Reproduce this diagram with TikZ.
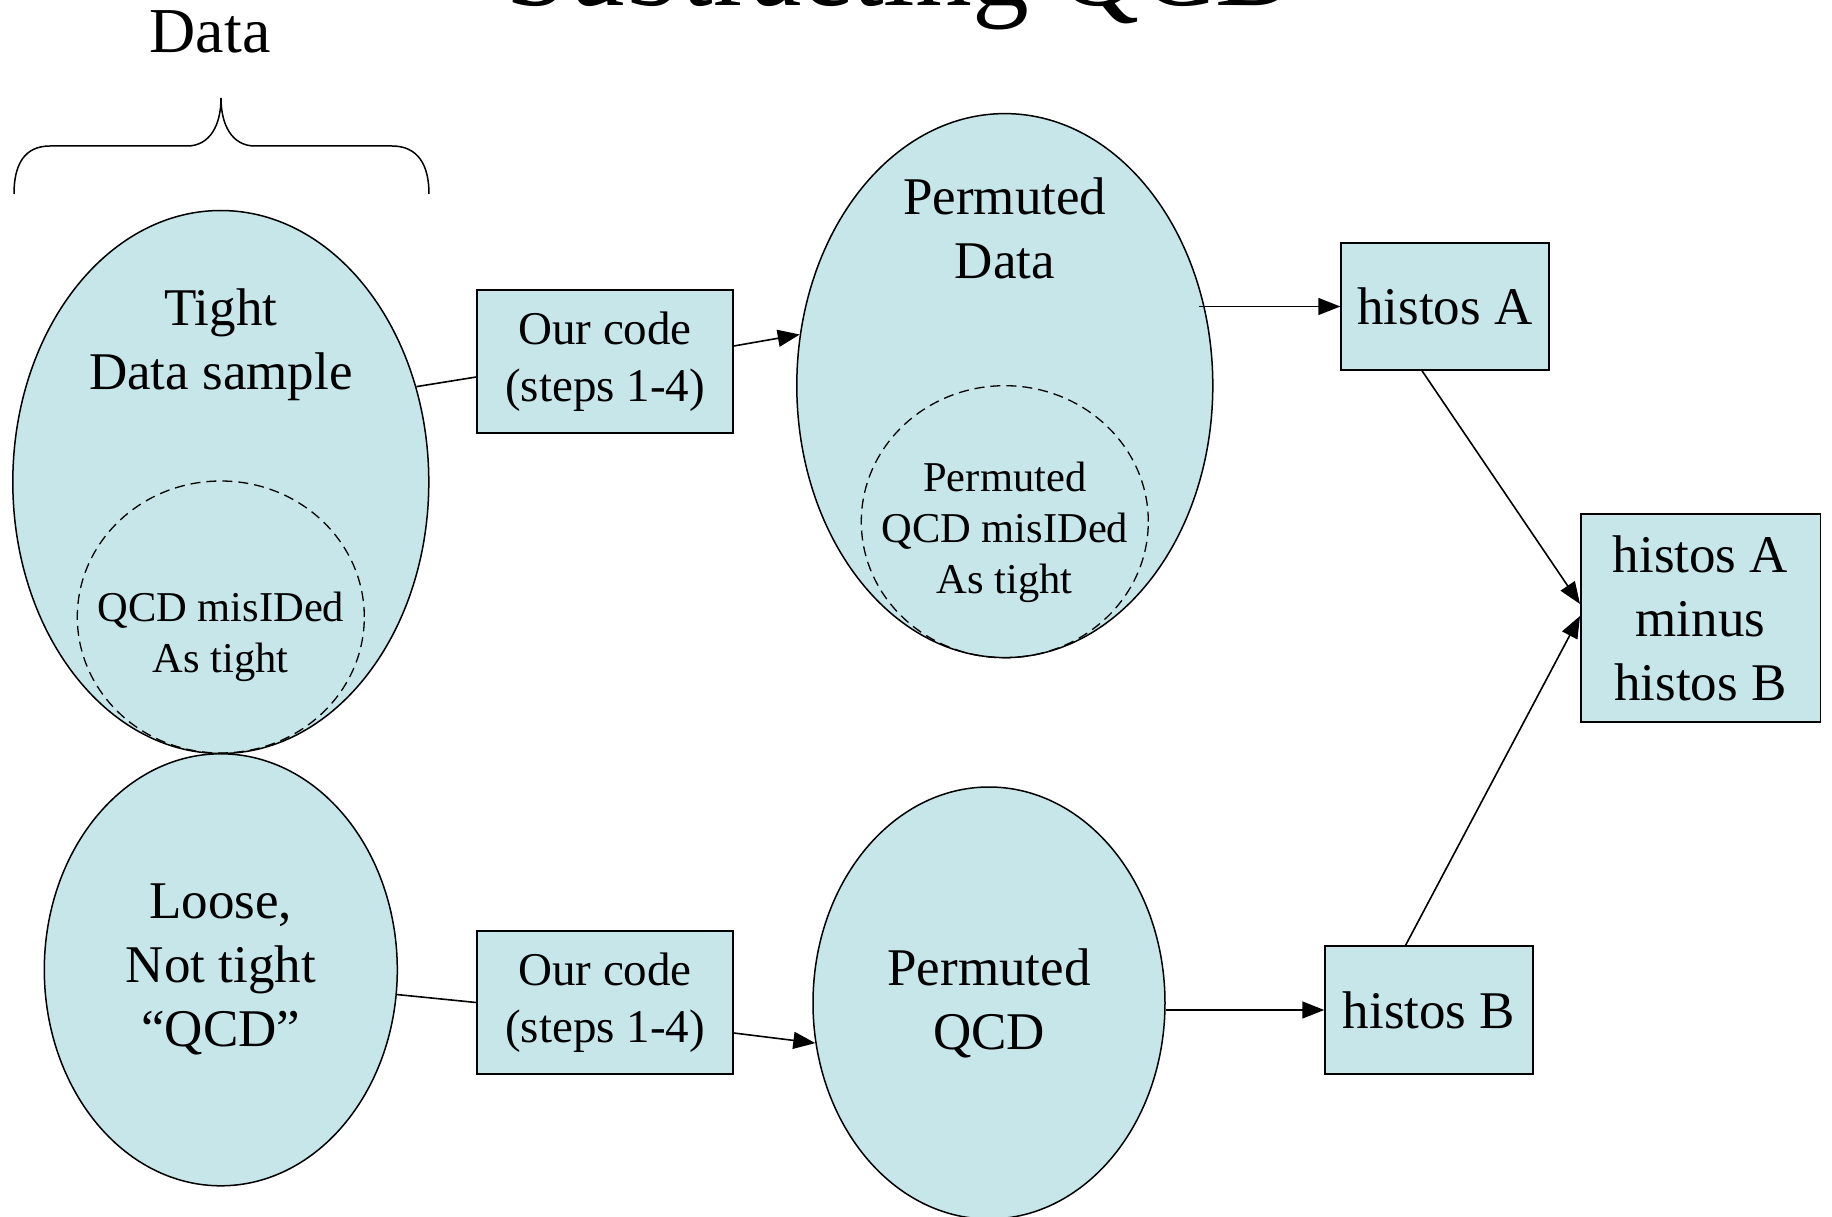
\documentclass[tikz,border=0pt]{standalone}
\usepackage{fontspec}
\setmainfont{Liberation Serif}
\usetikzlibrary{shapes.geometric,arrows.meta,calc}
\definecolor{cellfill}{RGB}{198,230,233}
\begin{document}
\begin{tikzpicture}[x=1pt,y=-1pt,
  blob/.style={ellipse,draw=black,fill=cellfill,line width=1.5pt,inner sep=0pt,
    font=\fontsize{53}{64}\selectfont,align=center},
  subset/.style={ellipse,draw=black,line width=1.3pt,dash pattern=on 10pt off 6pt,inner sep=0pt},
  procbox/.style={rectangle,draw=black,fill=cellfill,line width=1.5pt,inner sep=0pt,align=center},
  bigtxt/.style={font=\fontsize{53}{64}\selectfont,align=center},
  smalltxt/.style={font=\fontsize{42.5}{51}\selectfont,align=center},
  codetxt/.style={font=\fontsize{47}{57}\selectfont},
  link/.style={line width=1.6pt},
  arrowlink/.style={line width=1.6pt,-{Triangle[length=22pt,width=17pt]}}]
\useasboundingbox (0,0) rectangle (1832,1217);
\clip (0,0) rectangle (1832,1217);

% title (cut off at the top) and brace label
\node[font=\fontsize{113.6}{130}\selectfont,anchor=base,inner sep=0pt] (title) at (901,6) {Subtracting QCD};
\node[font=\fontsize{64}{77}\selectfont,anchor=base,inner sep=0pt] (datalabel) at (210,53) {Data};

% brace
\draw[line width=1.5pt] (14,194) .. controls (14,165) and (24,146) .. (50,146) -- (187,146)
  .. controls (210,146) and (221,125) .. (221,98)
  .. controls (221,125) and (232,146) .. (255,146) -- (392,146)
  .. controls (418,146) and (429,165) .. (429,194);

% ellipses
\node[blob,minimum width=416pt,minimum height=543pt] (tight) at (220.8,482) {};
\node[subset,minimum width=287pt,minimum height=272pt] (tightqcd) at (220.8,617) {};
\node[bigtxt] (tighttxt) at (220.8,345) {Tight\\Data sample};
\node[smalltxt] (tightqcdtxt) at (220.8,637) {QCD misIDed\\As tight};

\node[blob,minimum width=353pt,minimum height=432pt] (loose) at (220.8,969.8) {Loose,\\Not tight\\“QCD”};

\node[blob,minimum width=416pt,minimum height=544pt] (pdata) at (1004.8,385.6) {};
\node[subset,minimum width=287pt,minimum height=272pt] (pdataqcd) at (1004.8,521.7) {};
\node[bigtxt] (pdatatxt) at (1004.8,228.4) {Permuted\\Data};
\node[smalltxt] (pdataqcdtxt) at (1004.8,532) {Permuted\\QCD misIDed\\As tight};

\node[blob,minimum width=352pt,minimum height=432pt] (pqcd) at (989,1003) {Permuted\\QCD};

% boxes
\node[procbox,codetxt,minimum width=256pt,minimum height=143pt] (box1) at (605,361.5) {Our code\\(steps 1-4)};
\node[procbox,codetxt,minimum width=256pt,minimum height=143pt] (box2) at (605,1002.5) {Our code\\(steps 1-4)};
\node[procbox,bigtxt,minimum width=208pt,minimum height=127pt] (histA) at (1445,306.5) {histos A};
\node[procbox,bigtxt,minimum width=208pt,minimum height=128pt] (histB) at (1429,1010) {histos B};
\node[procbox,bigtxt,minimum width=239.5pt,minimum height=208pt] (minus) at (1700.5,618) {histos A\\minus\\histos B};

% connectors
\draw[link] (tight.26.4) -- ($(box1.west)+(0,15.5)$);
\draw[arrowlink] ($(box1.east)+(0,-15.5)$) -- (pdata.166.8);
\draw[arrowlink] ($(pdata.east |- histA.west)+(-15,0)$) -- (histA.west);
\draw[arrowlink] ($(histA.south)+(-23,0)$) -- ($(minus.west)+(0,-14)$);
\draw[arrowlink] ($(histB.north)+(-23.4,0)$) -- ($(minus.west)+(0,-2)$);
\draw[link] (loose.-8) -- (box2.west);
\draw[arrowlink] ($(box2.east)+(0,30.5)$) -- (pqcd.193);
\draw[arrowlink] (pqcd.east |- histB.west) -- (histB.west);
\end{tikzpicture}
\end{document}
